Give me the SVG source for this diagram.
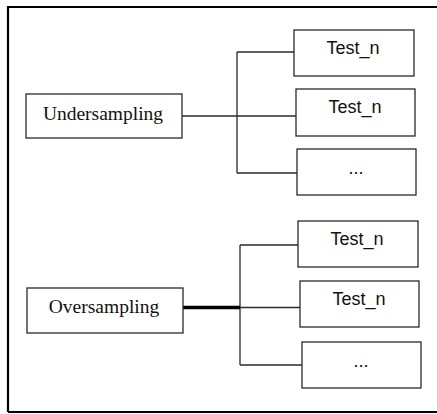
<svg xmlns="http://www.w3.org/2000/svg" width="437" height="414" viewBox="0 0 437 414">
<style>
.box{fill:#fff;stroke:#2a2a2a;stroke-width:1.3}
.serif{font-family:"Liberation Serif","Times New Roman",serif;font-size:19.5px;fill:#111;text-anchor:middle}
.sans{font-family:"Liberation Sans",Arial,sans-serif;font-size:18px;fill:#111;text-anchor:middle}
.ln{fill:none;stroke:#2a2a2a;stroke-width:1.3}
</style>
<rect width="437" height="414" fill="#fff"/>
<g id="frame"><path d="M8,412 V7 H437 M8,412 H437" fill="none" stroke="#000" stroke-width="2.2"/></g>
<g id="connectors">
<path class="ln" d="M182,116 H296 M237,52 V173 M237,52 H294 M237,173 H297"/>
<path class="ln" d="M240,245 V365 M240,245 H298 M240,365 H302 M240,307.5 H300"/>
<path fill="none" stroke="#000" stroke-width="3.4" d="M183,307.5 H240"/>
</g>
<g id="undersampling"><rect class="box" x="26" y="94" width="156" height="44"/><text class="serif" x="103" y="120">Undersampling</text></g>
<g id="u_test1"><rect class="box" x="294" y="30" width="120" height="46"/><text class="sans" x="353" y="54">Test_n</text></g>
<g id="u_test2"><rect class="box" x="296" y="89" width="119" height="47"/><text class="sans" x="355" y="113">Test_n</text></g>
<g id="u_more"><rect class="box" x="297" y="149" width="119" height="46"/><text class="sans" x="356" y="174">...</text></g>
<g id="oversampling"><rect class="box" x="27" y="288" width="156" height="45"/><text class="serif" x="104" y="313">Oversampling</text></g>
<g id="o_test1"><rect class="box" x="298" y="221" width="120" height="46"/><text class="sans" x="357" y="245">Test_n</text></g>
<g id="o_test2"><rect class="box" x="300" y="281" width="119" height="46"/><text class="sans" x="359" y="305">Test_n</text></g>
<g id="o_more"><rect class="box" x="302" y="342" width="119" height="46"/><text class="sans" x="361" y="367">...</text></g>
</svg>
